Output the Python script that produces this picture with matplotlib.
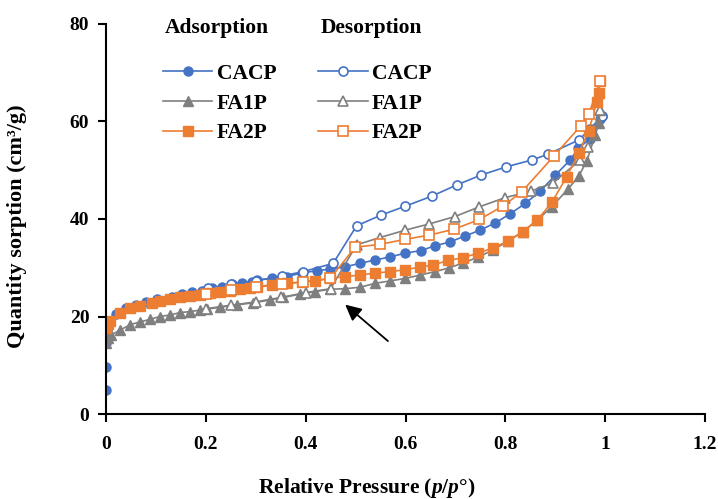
import matplotlib.pyplot as plt
from matplotlib.lines import Line2D

plt.rcParams['font.family'] = ['Liberation Serif', 'DejaVu Serif']
plt.rcParams['font.weight'] = 'bold'
plt.rcParams['axes.labelweight'] = 'bold'
plt.rcParams['mathtext.fontset'] = 'custom'
plt.rcParams['mathtext.it'] = 'Liberation Serif:italic:bold'
plt.rcParams['mathtext.rm'] = 'Liberation Serif:bold'

# CACP
cacp_ads_x = [0.0, 0.0, 0.0, 0.004, 0.02, 0.04, 0.06, 0.08, 0.102, 0.132, 0.152, 0.172, 0.192,
              0.212, 0.232, 0.252, 0.272, 0.292, 0.302, 0.332, 0.362, 0.392, 0.422, 0.449,
              0.479, 0.509, 0.539, 0.569, 0.599, 0.630, 0.659, 0.689, 0.719, 0.749, 0.780,
              0.810, 0.840, 0.870, 0.900, 0.930, 0.946, 0.970, 0.990, 0.993]
cacp_ads_y = [5.0, 9.7, 14.5, 17.8, 20.5, 21.8, 22.4, 22.9, 23.5, 24.1, 24.6, 25.0, 25.3,
              25.8, 26.1, 26.7, 26.9, 27.1, 27.5, 27.8, 28.2, 28.9, 29.4, 29.7,
              30.2, 30.9, 31.6, 32.2, 33.0, 33.5, 34.5, 35.3, 36.5, 37.7, 39.2,
              41.1, 43.2, 45.7, 49.0, 52.1, 54.5, 56.5, 60.6, 61.1]
cacp_des_x = [0.993, 0.970, 0.947, 0.886, 0.853, 0.802, 0.751, 0.703, 0.653, 0.599, 0.551,
              0.502, 0.455, 0.395, 0.352, 0.300, 0.250, 0.205]
cacp_des_y = [61.1, 58.5, 56.2, 53.3, 52.1, 50.7, 49.0, 47.0, 44.7, 42.6, 40.8,
              38.6, 30.9, 29.2, 28.3, 27.3, 26.6, 25.8]

# FA1P
fa1p_ads_x = [0.0, 0.005, 0.01, 0.028, 0.048, 0.068, 0.088, 0.108, 0.128, 0.148, 0.168, 0.188,
              0.202, 0.228, 0.262, 0.295, 0.329, 0.355, 0.389, 0.419, 0.449, 0.479, 0.509,
              0.539, 0.569, 0.599, 0.629, 0.659, 0.688, 0.716, 0.746, 0.776, 0.806, 0.835,
              0.864, 0.893, 0.926, 0.947, 0.963, 0.980, 0.987, 0.990]
fa1p_ads_y = [14.5, 15.5, 16.2, 17.2, 18.3, 18.9, 19.4, 20.0, 20.3, 20.8, 21.0, 21.3,
              21.5, 21.9, 22.4, 22.8, 23.4, 23.9, 24.6, 25.1, 25.6, 25.7, 26.0,
              26.8, 27.3, 27.8, 28.5, 29.2, 30.0, 31.0, 32.2, 33.7, 35.5, 37.4,
              39.8, 42.5, 46.2, 48.8, 51.9, 57.2, 59.6, 62.4]
fa1p_des_x = [0.990, 0.966, 0.950, 0.895, 0.851, 0.800, 0.748, 0.699, 0.648, 0.599, 0.549,
              0.502, 0.450, 0.400, 0.350, 0.300, 0.250, 0.200]
fa1p_des_y = [62.4, 54.8, 52.1, 47.4, 45.7, 44.4, 42.5, 40.5, 39.0, 37.7, 36.2,
              34.7, 25.7, 24.9, 23.9, 23.0, 22.3, 21.6]

# FA2P
fa2p_ads_x = [0.0, 0.004, 0.009, 0.028, 0.048, 0.068, 0.092, 0.108, 0.128, 0.148, 0.168, 0.188,
              0.208, 0.228, 0.248, 0.269, 0.289, 0.302, 0.332, 0.362, 0.392, 0.419, 0.449,
              0.479, 0.509, 0.539, 0.569, 0.599, 0.629, 0.656, 0.686, 0.716, 0.746, 0.776,
              0.806, 0.835, 0.864, 0.893, 0.923, 0.947, 0.967, 0.983, 0.987, 0.990]
fa2p_ads_y = [17.6, 18.4, 19.1, 20.7, 21.8, 22.2, 22.7, 23.1, 23.5, 23.9, 24.2, 24.4,
              24.8, 25.1, 25.3, 25.6, 25.8, 26.1, 26.5, 26.8, 27.1, 27.3, 27.8,
              28.2, 28.5, 28.9, 29.2, 29.6, 30.1, 30.6, 31.5, 32.1, 33.0, 34.1,
              35.5, 37.4, 39.8, 43.4, 48.7, 53.5, 58.1, 63.9, 65.8, 68.3]
fa2p_des_x = [0.990, 0.967, 0.951, 0.898, 0.833, 0.796, 0.748, 0.697, 0.648, 0.598, 0.549,
              0.499, 0.449, 0.395, 0.352, 0.300, 0.250, 0.200]
fa2p_des_y = [68.3, 61.5, 59.1, 53.0, 45.6, 42.7, 39.9, 37.9, 36.7, 35.8, 34.8,
              34.2, 27.8, 27.1, 26.6, 26.0, 25.4, 24.7]

blue = '#4472C4'
gray = '#7F7F7F'
orange = '#ED7D31'

fig = plt.figure(figsize=(7.18, 4.99), dpi=100)
ax = fig.add_axes([0.1476, 0.1703, 0.8344, 0.7817])

ms = 6.5
lw = 1.2
ax.plot(cacp_ads_x, cacp_ads_y, color=blue, marker='o', ms=ms, lw=lw)
ax.plot(cacp_des_x, cacp_des_y, color=blue, marker='o', ms=ms, lw=lw, mfc='white', mew=1.2)
ax.plot(fa1p_ads_x, fa1p_ads_y, color=gray, marker='^', ms=ms + 0.5, lw=lw)
ax.plot(fa1p_des_x, fa1p_des_y, color=gray, marker='^', ms=ms + 0.5, lw=lw, mfc='white', mew=1.2)
ax.plot(fa2p_ads_x, fa2p_ads_y, color=orange, marker='s', ms=ms, lw=lw)
ax.plot(fa2p_des_x, fa2p_des_y, color=orange, marker='s', ms=ms, lw=lw, mfc='white', mew=1.2)

ax.annotate('', xy=(0.475, 22.8), xytext=(0.569, 14.6),
            arrowprops=dict(arrowstyle='-|>', color='black', lw=1.3, mutation_scale=24))

ax.set_xlim(0, 1.2)
ax.set_ylim(0, 80)
ax.set_xticks([0, 0.2, 0.4, 0.6, 0.8, 1.0, 1.2])
ax.set_xticklabels(['0', '0.2', '0.4', '0.6', '0.8', '1', '1.2'])
ax.set_yticks([0, 20, 40, 60, 80])
for s in ['top', 'right']:
    ax.spines[s].set_visible(False)
for s in ['left', 'bottom']:
    ax.spines[s].set_linewidth(1.5)
    ax.spines[s].set_clip_on(False)
ax.tick_params(direction='out', length=6, width=1.5, labelsize=14, pad=10)
ax.tick_params(axis='y', pad=6)
ax.set_xlabel(r'Relative Pressure ($p$/$p$°)', fontsize=15.5)
ax.xaxis.set_label_coords(0.436, -0.158)
ax.set_ylabel('Quantity sorption (cm³/g)', fontsize=16)
ax.yaxis.set_label_coords(-0.132, 0.482)

def handles(filled):
    out = []
    for c, m in [(blue, 'o'), (gray, '^'), (orange, 's')]:
        if filled:
            out.append(Line2D([], [], color=c, marker=m, ms=ms, lw=lw))
        else:
            out.append(Line2D([], [], color=c, marker=m, ms=ms, lw=lw, mfc='white', mew=1.2))
    return out

names = ['CACP', 'FA1P', 'FA2P']
kw = dict(frameon=False, fontsize=15.5, handlelength=2.3, handletextpad=0.2,
          labelspacing=0.45, borderpad=0, borderaxespad=0, loc='upper left',
          bbox_transform=fig.transFigure)
leg1 = fig.legend(handles(True), names, bbox_to_anchor=(0.227, 0.872), **kw)
leg2 = fig.legend(handles(False), names, bbox_to_anchor=(0.443, 0.872), **kw)
fig.text(0.229, 1 - 28 / 499, 'Adsorption', fontsize=15.5, va='center')
fig.text(0.447, 1 - 28 / 499, 'Desorption', fontsize=15.5, va='center')

fig.savefig('out.png', dpi=100)
